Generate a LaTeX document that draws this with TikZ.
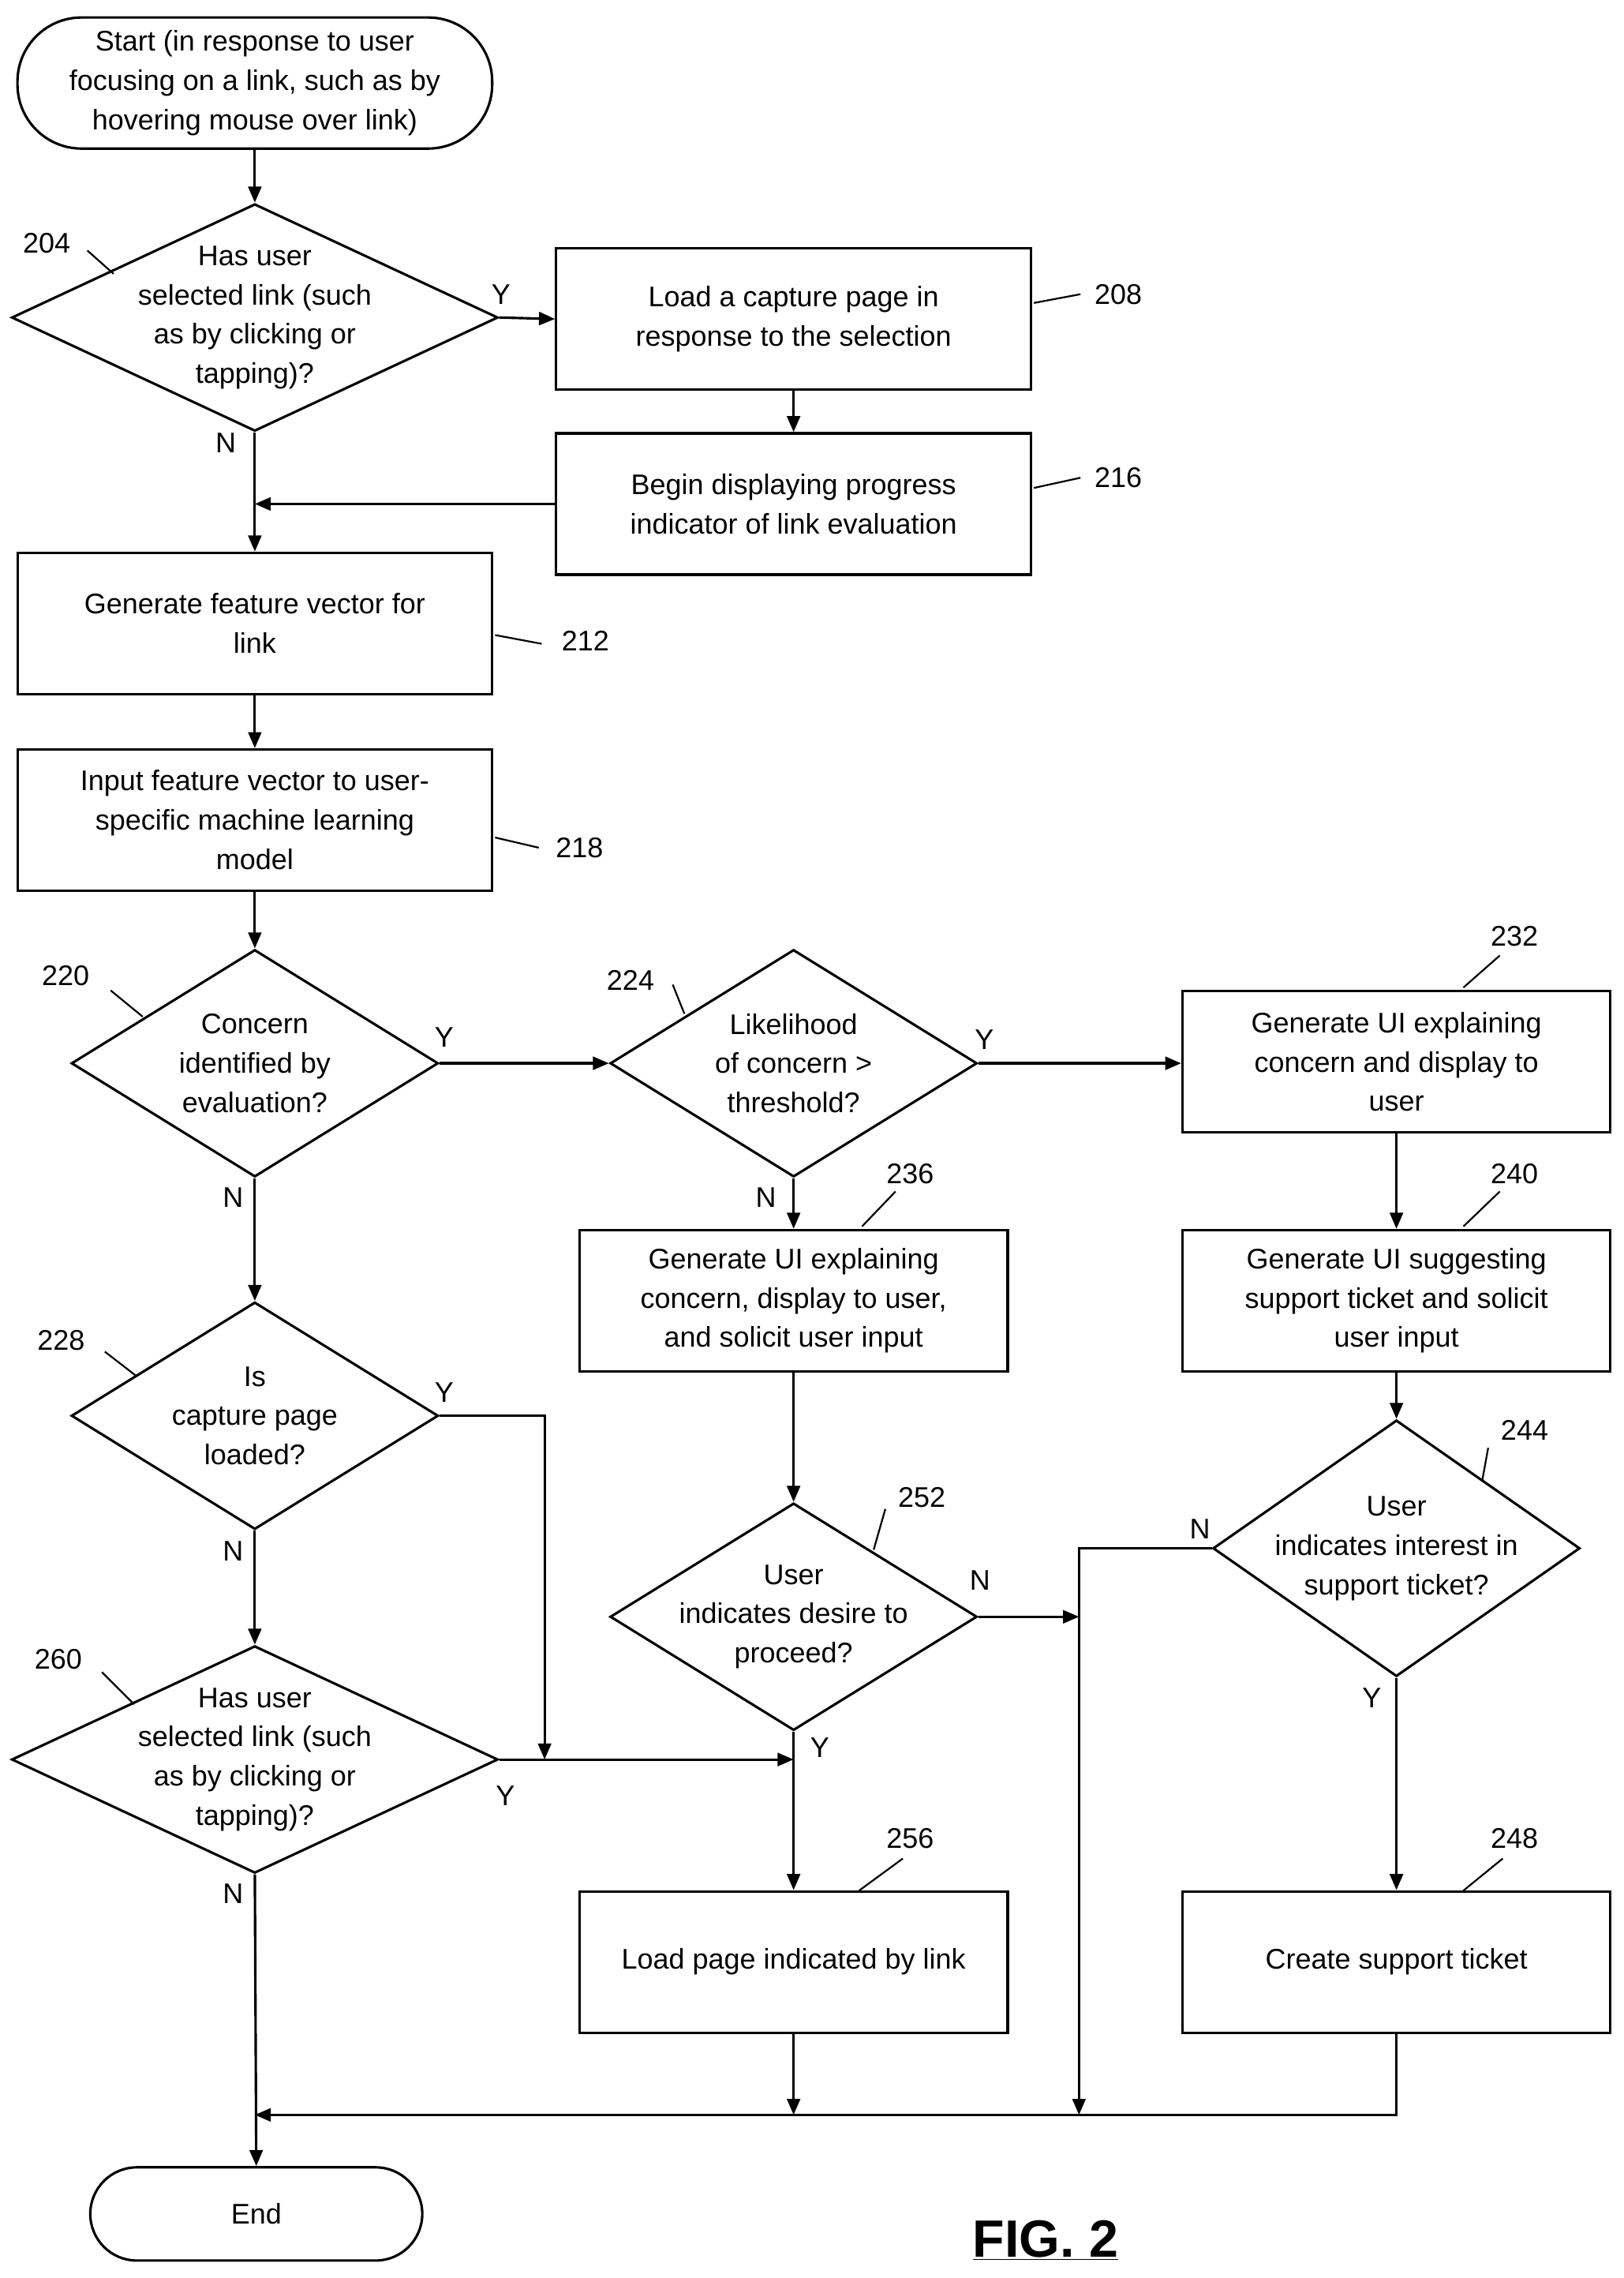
\documentclass[tikz,border=0pt]{standalone}
\usepackage{fontspec}
\setmainfont{Liberation Sans}
\usetikzlibrary{shapes.geometric,arrows.meta}
\begin{document}
\begin{tikzpicture}[x=1pt,y=-1pt,line width=1.7pt,
 box/.style={draw,rectangle,minimum width=326,minimum height=97,align=center,inner sep=0},
 box2/.style={draw,rectangle,minimum width=294,minimum height=97,align=center,inner sep=0},
 dia/.style={draw,diamond,inner sep=0},
 txt/.style={align=center,inner sep=0},
 lbl/.style={inner sep=0},
 arr/.style={-{Triangle[length=11pt,width=9pt]}},
 every node/.style={font=\fontsize{19.5}{27}\selectfont}]
\useasboundingbox (0,0) rectangle (1115,1564);
% terminals
\node[draw,rectangle,rounded corners=44,minimum width=326,minimum height=90,align=center,inner sep=0] (start) at (175,57) {Start (in response to user\\focusing on a link, such as by\\hovering mouse over link)};
\node[draw,rectangle,rounded corners=32,minimum width=228,minimum height=64,inner sep=0] (end) at (176,1520) {End};
% diamonds
\node[dia,minimum width=334,minimum height=156] (d204) at (175,218) {};
\node[txt] at (175,218) {Has user\\selected link (such\\as by clicking or\\tapping)?};
\node[dia,minimum width=252,minimum height=156] (d220) at (175,730) {};
\node[txt] at (175,730) {Concern\\identified by\\evaluation?};
\node[dia,minimum width=252,minimum height=156] (d224) at (545,730) {};
\node[txt] at (545,730) {Likelihood\\of concern >\\threshold?};
\node[dia,minimum width=252,minimum height=156] (d228) at (175,972) {};
\node[txt] at (175,972) {Is\\capture page\\loaded?};
\node[dia,minimum width=252,minimum height=156] (d252) at (545,1110) {};
\node[txt] at (545,1110) {User\\indicates desire to\\proceed?};
\node[dia,minimum width=252,minimum height=176] (d244) at (959,1063) {};
\node[txt] at (959,1063) {User\\indicates interest in\\support ticket?};
\node[dia,minimum width=334,minimum height=156] (d260) at (175,1208) {};
\node[txt] at (175,1208) {Has user\\selected link (such\\as by clicking or\\tapping)?};
% boxes
\node[box] (b208) at (545,219) {Load a capture page in\\response to the selection};
\node[box] (b216) at (545,346) {Begin displaying progress\\indicator of link evaluation};
\node[box] (b212) at (175,428) {Generate feature vector for\\link};
\node[box] (b218) at (175,563) {Input feature vector to user-\\specific machine learning\\model};
\node[box2] (b232) at (959,729) {Generate UI explaining\\concern and display to\\user};
\node[box2] (b236) at (545,893) {Generate UI explaining\\concern, display to user,\\and solicit user input};
\node[box2] (b240) at (959,893) {Generate UI suggesting\\support ticket and solicit\\user input};
\node[box2] (b256) at (545,1347) {Load page indicated by link};
\node[box2] (b248) at (959,1347) {Create support ticket};
% ref labels
\node[lbl] (l204) at (32,167) {204}; \draw[line width=1.2pt] (60,172) -- (78,188);
\node[lbl] (l208) at (768,202) {208}; \draw[line width=1.2pt] (710,208) -- (742,202);
\node[lbl] (l216) at (768,328) {216}; \draw[line width=1.2pt] (710,335) -- (742,328);
\node[lbl] (l212) at (402,440) {212}; \draw[line width=1.2pt] (340,436) -- (372,442);
\node[lbl] (l218) at (398,582) {218}; \draw[line width=1.2pt] (340,575) -- (370,582);
\node[lbl] (l220) at (45,670) {220}; \draw[line width=1.2pt] (76,680) -- (98,698);
\node[lbl] (l224) at (433,673) {224}; \draw[line width=1.2pt] (462,676) -- (470,696);
\node[lbl] (l232) at (1040,643) {232}; \draw[line width=1.2pt] (1030,656) -- (1005,678);
\node[lbl] (l236) at (625,806) {236}; \draw[line width=1.2pt] (615,818) -- (592,842);
\node[lbl] (l240) at (1040,806) {240}; \draw[line width=1.2pt] (1030,818) -- (1005,842);
\node[lbl] (l228) at (42,920) {228}; \draw[line width=1.2pt] (72,928) -- (94,945);
\node[lbl] (l252) at (633,1028) {252}; \draw[line width=1.2pt] (608,1036) -- (600,1064);
\node[lbl] (l244) at (1047,982) {244}; \draw[line width=1.2pt] (1022,994) -- (1018,1016);
\node[lbl] (l260) at (40,1139) {260}; \draw[line width=1.2pt] (70,1148) -- (92,1170);
\node[lbl] (l256) at (625,1262) {256}; \draw[line width=1.2pt] (620,1276) -- (590,1298);
\node[lbl] (l248) at (1040,1262) {248}; \draw[line width=1.2pt] (1032,1276) -- (1005,1298);
% coordinates
\coordinate (j216) at (175,346);
\coordinate (c228) at (374,972);
\coordinate (j374) at (374,1208);
\coordinate (j545) at (545,1208);
\coordinate (j252) at (741,1110);
\coordinate (c244) at (741,1063);
\coordinate (j741) at (741,1452);
\coordinate (j256) at (545,1452);
\coordinate (c248) at (959,1452);
\coordinate (j175) at (175,1452);
% connectors
\draw[arr] (start) -- (d204);
\draw[arr] (d204.east) -- (b208.west); \node at (344,202) {Y};
\draw[arr] (b208) -- (b216);
\draw[arr] (d204.south) -- (b212.north); \node at (155,304) {N};
\draw[arr] (b216.west) -- (j216);
\draw[arr] (b212) -- (b218);
\draw[arr] (b218) -- (d220);
\draw[arr] (d220.east) -- (d224.west); \node at (305,712) {Y};
\draw[arr] (d224.east) -- (b232.west |- d224.east); \node at (676,714) {Y};
\draw[arr] (d224.south) -- (b236.north); \node at (526,822) {N};
\draw[arr] (b232) -- (b240);
\draw[arr] (b240) -- (d244);
\draw[arr] (d220.south) -- (d228.north); \node at (160,822) {N};
\draw[arr] (d228.east) -- (c228) -- (j374);
\node at (305,956) {Y};
\draw[arr] (d260.east) -- (j545);
\node at (347,1233) {Y};
\draw[arr] (b236) -- (d252);
\draw[arr] (d252.south) -- (b256.north); \node at (563,1200) {Y};
\draw[arr] (d252.east) -- (j252);
\node at (673,1085) {N};
\draw[arr] (d244.west) -- (c244) -- (j741);
\node at (824,1050) {N};
\draw[arr] (d244.south) -- (b248.north); \node at (942,1166) {Y};
\draw[arr] (b256.south) -- (j256);
\draw[arr] (b248.south) -- (c248) -- (j175);
\draw[arr] (d228.south) -- (d260.north); \node at (160,1065) {N};
\draw[arr] (d260.south) -- (end.north); \node at (160,1300) {N};
% fig
\node[font=\fontsize{36}{40}\selectfont\bfseries] (fig) at (718,1538) {\underline{FIG. 2}};
\end{tikzpicture}
\end{document}
